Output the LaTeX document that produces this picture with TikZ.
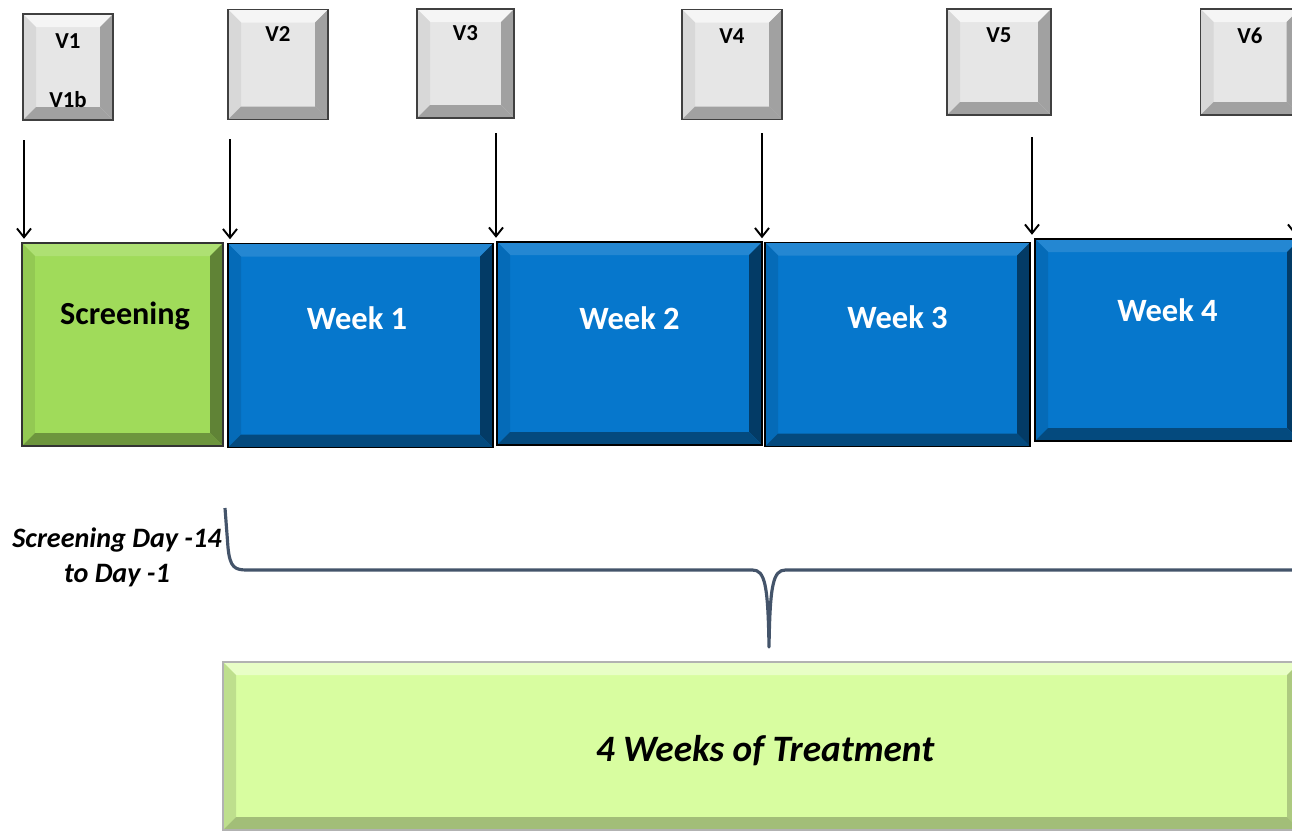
\documentclass[tikz,border=0pt]{standalone}
\usepackage{fontspec}
\setmainfont{Carlito}
\usepackage{xcolor}
\usepackage{tikz}
\usetikzlibrary{arrows.meta,positioning,calc}

\definecolor{grayface}{HTML}{E6E6E6}
\definecolor{greenface}{HTML}{A0DB5A}
\definecolor{blueface}{HTML}{0677CC}
\definecolor{paleface}{HTML}{D8FDA0}
\definecolor{bracecol}{HTML}{44546A}

% bevelled faces: top, left, right, bottom
\newcommand{\bevw}{0.26cm}
\newcommand{\bevelfaces}[4]{%
  \fill[#1] (path picture bounding box.north west) -- (path picture bounding box.north east)
    -- ([shift={(-\bevw,-\bevw)}]path picture bounding box.north east)
    -- ([shift={(\bevw,-\bevw)}]path picture bounding box.north west) -- cycle;
  \fill[#2] (path picture bounding box.north west) -- (path picture bounding box.south west)
    -- ([shift={(\bevw,\bevw)}]path picture bounding box.south west)
    -- ([shift={(\bevw,-\bevw)}]path picture bounding box.north west) -- cycle;
  \fill[#3] (path picture bounding box.north east) -- (path picture bounding box.south east)
    -- ([shift={(-\bevw,\bevw)}]path picture bounding box.south east)
    -- ([shift={(-\bevw,-\bevw)}]path picture bounding box.north east) -- cycle;
  \fill[#4] (path picture bounding box.south west) -- (path picture bounding box.south east)
    -- ([shift={(-\bevw,\bevw)}]path picture bounding box.south east)
    -- ([shift={(\bevw,\bevw)}]path picture bounding box.south west) -- cycle;
}

\begin{document}
\begin{tikzpicture}[
    visit/.style={draw=black!75, line width=0.8pt, fill=grayface, minimum width=2cm, minimum height=2.2cm,
        path picture={\bevelfaces{white!60!grayface}{black!6!grayface}{black!30!grayface}{black!30!grayface}}},
    scrbox/.style={draw=black!80, line width=0.8pt, fill=greenface, minimum width=4.02cm, minimum height=4.06cm,
        path picture={\bevelfaces{white!15!greenface}{black!8!greenface}{black!40!greenface}{black!32!greenface}}},
    weekbox/.style={draw=black, line width=0.8pt, fill=blueface, minimum width=5.3cm, minimum height=4.08cm,
        path picture={\bevelfaces{white!12!blueface}{black!10!blueface}{black!50!blueface}{black!38!blueface}}},
    treatbox/.style={draw=black!30, line width=0.6pt, fill=paleface, minimum width=21.54cm, minimum height=3.36cm,
        path picture={\bevelfaces{white!40!paleface}{black!12!paleface}{black!20!paleface}{black!25!paleface}}},
    vtxt/.style={font=\bfseries\fontsize{13}{15}\selectfont},
    wtxt/.style={font=\bfseries\fontsize{18.5}{22}\selectfont, text=white},
    arr/.style={-{Straight Barb[length=5pt,width=8pt]}, line width=1.1pt, shorten >=2pt}
]
    \useasboundingbox (0,0) rectangle (25.84,-16.62);

    % Visits
    \node[visit, minimum width=1.8cm, minimum height=2.12cm] (v1) at (1.36,-1.34) {};
    \node[visit] (v2) at (5.56,-1.29) {};
    \node[visit, minimum width=1.94cm, minimum height=2.18cm] (v3) at (9.31,-1.27) {};
    \node[visit] (v4) at (14.64,-1.29) {};
    \node[visit, minimum width=2.08cm, minimum height=2.12cm] (v5) at (19.98,-1.24) {};
    \node[visit, minimum width=1.98cm, minimum height=2.12cm] (v6) at (25.0,-1.24) {};

    \node[vtxt] (v1t) at ([yshift=-0.56cm]v1.north) {V1};
    \node[vtxt] (v1bt) at ([yshift=0.42cm]v1.south) {V1b};
    \node[vtxt] (v2t) at ([yshift=-0.5cm]v2.north) {V2};
    \node[vtxt] (v3t) at ([yshift=-0.5cm]v3.north) {V3};
    \node[vtxt] (v4t) at ([yshift=-0.54cm]v4.north) {V4};
    \node[vtxt] (v5t) at ([yshift=-0.54cm]v5.north) {V5};
    \node[vtxt] (v6t) at ([yshift=-0.54cm]v6.north) {V6};

    % Periods
    \node[scrbox] (scr) at (2.45,-6.89) {};
    \node[weekbox] (w1) at (7.21,-6.91) {};
    \node[weekbox, minimum height=4.06cm] (w2) at (12.59,-6.87) {};
    \node[weekbox] (w3) at (17.95,-6.89) {};
    \node[weekbox, minimum height=4.04cm] (w4) at (23.35,-6.80) {};

    \node[font=\bfseries\fontsize{18.3}{22}\selectfont] (scrt) at ([shift={(0.05,0.57)}]scr.center) {Screening};
    \node[wtxt] (w1t) at ([shift={(-0.07,0.55)}]w1.center) {Week 1};
    \node[wtxt] (w2t) at ([yshift=0.51cm]w2.center) {Week 2};
    \node[wtxt] (w3t) at ([yshift=0.55cm]w3.center) {Week 3};
    \node[wtxt] (w4t) at ([yshift=0.60cm]w4.center) {Week 4};

    % Visit arrows
    \coordinate (t1) at (0.48,-2.80);
    \coordinate (t2) at (4.60,-2.78);
    \coordinate (t3) at (9.92,-2.66);
    \coordinate (t4) at (15.24,-2.66);
    \coordinate (t5) at (20.64,-2.74);
    \coordinate (t6) at (25.90,-2.70);
    \draw[arr] (t1) -- (t1 |- scr.north);
    \draw[arr] (t2) -- (t2 |- w1.north);
    \draw[arr] (t3) -- (t3 |- w2.north);
    \draw[arr] (t4) -- (t4 |- w3.north);
    \draw[arr] (t5) -- (t5 |- w4.north);
    \draw[arr] (t6) -- (t6 |- w4.north);

    % Brace
    \draw[bracecol, line width=1.8pt, line join=round]
        (4.50,-10.16) -- (4.56,-10.95) .. controls (4.60,-11.36) and (4.70,-11.40) .. (4.95,-11.40)
        -- (15.05,-11.40) .. controls (15.30,-11.40) and (15.36,-11.70) .. (15.38,-12.94)
        .. controls (15.40,-11.70) and (15.46,-11.40) .. (15.71,-11.40) -- (26.0,-11.40);

    \node[font=\bfseries\itshape\fontsize{16}{20}\selectfont, align=center] (scrday) at (2.34,-11.14)
        {Screening Day -14\\to Day -1};

    % Treatment
    \node[treatbox] (treat) at (15.23,-14.92) {};
    \node[font=\bfseries\itshape\fontsize{21.2}{25}\selectfont] (treatt) at ([shift={(0.07,-0.1)}]treat.center) {4 Weeks of Treatment};
\end{tikzpicture}
\end{document}
